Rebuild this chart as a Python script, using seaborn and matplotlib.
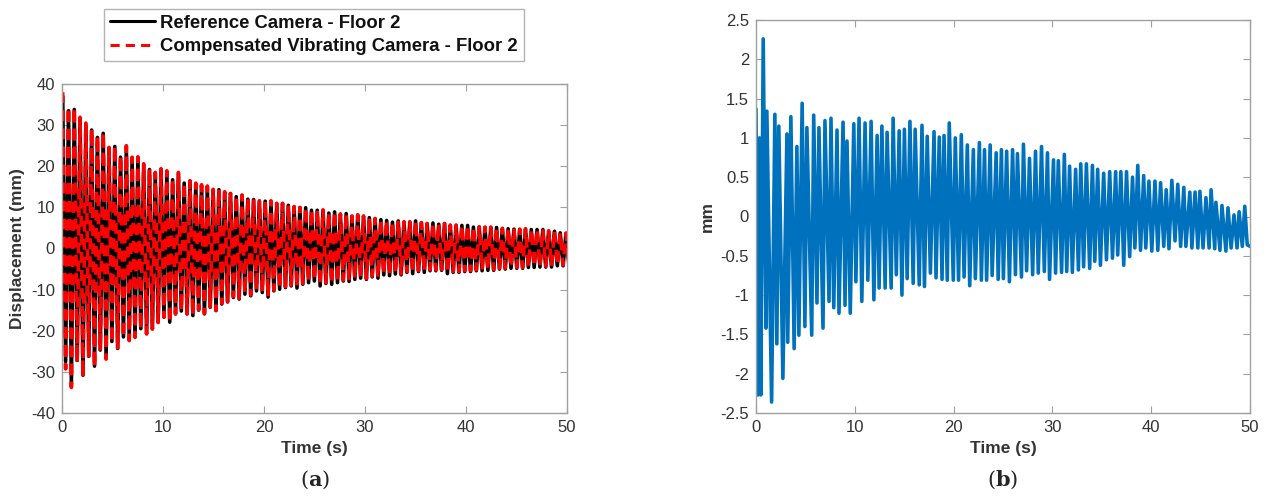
import numpy as np
import pandas as pd
import matplotlib
matplotlib.use("Agg")
import matplotlib.pyplot as plt
import seaborn as sns
from matplotlib.lines import Line2D

# ---------------- data ----------------
# Panel (a): successive peak / trough values of each displacement record (mm)
ref_peaks = [37.0, 33.5, 33.8, 31.5, 30.0, 28.8, 27.0, 28.0, 24.3, 24.8, 22.2, 24.6, 22.0, 22.0, 20.3, 19.2, 18.3, 19.2, 18.6, 16.7, 18.2, 15.9, 16.3,
             15.7, 15.3, 15.0, 14.2, 14.3, 13.6, 13.3, 12.6, 12.9, 12.0, 11.9, 11.5, 11.5, 11.4, 10.9, 10.9, 10.5, 10.1, 9.9, 9.9, 9.3,
             9.3, 9.2, 8.6, 8.9, 8.3, 8.5, 7.8, 8.1, 7.8, 7.5, 7.2, 7.0, 6.8, 6.4, 6.7, 6.4, 6.4, 6.7, 6.2, 6.0, 6.2, 5.9,
             6.0, 5.6, 5.6, 5.6, 5.6, 5.2, 5.2, 5.1, 5.1, 5.1, 4.8, 4.8, 4.7, 4.6, 4.7, 4.6, 4.6, 4.6, 4.2, 4.2, 3.8, 3.7]
ref_troughs = [-27.5, -33.0, -27.2, -30.8, -26.2, -28.6, -24.7, -26.6, -22.6, -24.3, -21.5, -22.2, -21.5, -19.5, -20.6, -19.5, -17.9, -16.7, -17.9, -15.9, -15.2, -15.9,
               -16.3, -15.0, -15.9, -14.3, -15.1, -13.5, -13.0, -11.9, -12.3, -11.1, -11.5, -10.3, -10.7, -11.8, -10.3, -9.9, -9.5, -9.1, -9.6, -8.7, -8.3, -7.9,
               -9.1, -8.5, -8.7, -8.3, -7.9, -8.0, -7.5, -7.2, -7.5, -6.9, -7.2, -6.4, -6.6, -6.2, -6.4, -5.8, -6.1, -5.6, -5.8, -5.4, -5.4, -5.3,
               -6.1, -5.8, -5.8, -5.6, -5.6, -5.4, -5.4, -5.3, -5.3, -5.0, -5.0, -4.8, -4.8, -4.8, -4.6, -4.6, -4.5, -4.5, -4.5, -4.2, -4.2, -3.9]
comp_peaks = [38.0, 34.3, 34.3, 31.9, 30.5, 29.1, 27.4, 28.3, 24.6, 25.0, 22.6, 25.0, 22.2, 22.3, 20.6, 19.4, 18.5, 19.4, 18.9, 16.9, 18.5, 16.1, 16.5,
              15.9, 15.5, 15.2, 14.4, 14.4, 13.8, 13.4, 12.8, 13.0, 12.2, 12.0, 11.6, 11.6, 11.6, 11.0, 11.0, 10.6, 10.2, 10.0, 10.0, 9.4,
              9.4, 9.4, 8.7, 9.0, 8.4, 8.6, 7.9, 8.2, 7.9, 7.6, 7.3, 7.1, 6.9, 6.5, 6.8, 6.5, 6.5, 6.8, 6.3, 6.1, 6.3, 6.0,
              6.1, 5.7, 5.7, 5.7, 5.7, 5.3, 5.3, 5.2, 5.2, 5.2, 4.9, 4.9, 4.8, 4.7, 4.8, 4.7, 4.7, 4.7, 4.3, 4.3, 3.8, 3.7]
comp_troughs = [-29.3, -33.8, -27.7, -31.3, -26.5, -28.9, -24.9, -26.9, -22.8, -24.5, -21.6, -22.4, -21.6, -19.6, -20.8, -19.6, -18.0, -16.7, -18.0, -15.9, -15.1, -15.9,
                -16.2, -14.9, -15.8, -14.2, -15.0, -13.3, -12.9, -11.7, -12.1, -10.9, -11.3, -10.1, -10.5, -11.7, -10.1, -9.7, -9.3, -8.9, -9.4, -8.5, -8.1, -7.7,
                -8.9, -8.3, -8.5, -8.1, -7.7, -7.8, -7.3, -7.0, -7.3, -6.7, -7.0, -6.2, -6.4, -6.0, -6.2, -5.6, -5.9, -5.4, -5.6, -5.2, -5.2, -5.1,
                -5.9, -5.6, -5.6, -5.4, -5.4, -5.2, -5.2, -5.1, -5.1, -4.8, -4.8, -4.6, -4.6, -4.6, -4.4, -4.4, -4.3, -4.3, -4.3, -4.0, -4.0, -3.6]
first_peak_time = 0.07   # s
last_peak_time = 49.9    # s

# Panel (b): difference record, peak / trough times (s) and values (mm)
diff_peak_t = [0.00, 0.35, 0.73, 1.10, 1.91, 2.31, 3.13, 3.53, 4.14, 4.67, 5.15, 5.84, 6.37, 6.98, 7.59, 8.20, 8.81, 9.21, 9.90,
               10.43, 11.04, 11.65, 12.26, 12.74, 13.27, 13.88, 14.49, 15.02, 15.58, 16.11, 16.80, 17.33, 18.02, 18.55, 19.03, 19.56,
               20.17, 20.78, 21.39, 22.00, 22.61, 23.13, 23.70, 24.31, 24.84, 25.37, 25.97, 26.46, 27.07, 27.68, 28.29, 28.90, 29.50,
               30.11, 30.60, 31.21, 31.74, 32.35, 32.87, 33.44, 34.05, 34.58, 35.19, 35.80, 36.40, 36.93, 37.50, 38.11, 38.64, 39.24, 39.77,
               40.38, 40.95, 41.52, 42.09, 42.69, 43.30, 43.91, 44.44, 44.93, 45.54, 46.06, 46.55, 47.16, 47.77, 48.38, 48.90, 49.47]
diff_peak_v = [1.37, 1.00, 2.26, 1.34, 1.30, 1.15, 1.05, 1.27, 0.89, 1.44, 1.13, 1.29, 1.13, 1.22, 1.25, 1.10, 1.20, 0.96, 1.18,
               1.25, 1.19, 1.21, 1.03, 1.15, 1.07, 1.25, 1.09, 1.11, 1.21, 1.11, 1.16, 1.02, 1.08, 1.01, 1.03, 1.19,
               1.00, 1.04, 0.91, 0.85, 0.94, 0.85, 0.91, 0.81, 0.85, 0.83, 0.85, 0.80, 0.92, 0.74, 0.83, 0.89, 0.81,
               0.72, 0.71, 0.79, 0.64, 0.60, 0.67, 0.67, 0.65, 0.60, 0.55, 0.57, 0.57, 0.57, 0.57, 0.50, 0.65, 0.52, 0.45,
               0.45, 0.43, 0.34, 0.46, 0.41, 0.37, 0.31, 0.31, 0.32, 0.24, 0.34, 0.18, 0.14, 0.11, 0.02, 0.06, 0.13]
diff_trough_t = [0.20, 0.49, 1.01, 1.58, 2.11, 2.72, 3.21, 3.86, 4.34, 4.95, 5.64, 6.17, 6.78, 7.39, 7.87, 8.40, 9.01, 9.54,
                 10.11, 10.71, 11.32, 11.93, 12.46, 13.07, 13.68, 14.20, 14.77, 15.30, 15.91, 16.52, 17.05, 17.65, 18.22, 18.83, 19.36, 19.97,
                 20.50, 21.06, 21.63, 22.20, 22.81, 23.34, 23.90, 24.51, 25.04, 25.65, 26.26, 26.87, 27.39, 28.00, 28.57, 29.18, 29.71,
                 30.32, 30.93, 31.45, 32.02, 32.63, 33.16, 33.77, 34.29, 34.86, 35.47, 36.08, 36.61, 37.22, 37.82, 38.35, 38.92, 39.45,
                 40.06, 40.67, 41.27, 41.80, 42.41, 42.98, 43.51, 44.12, 44.72, 45.25, 45.86, 46.43, 46.96, 47.56, 48.09, 48.69, 49.22, 49.72, 50.00]
diff_trough_v = [-2.27, -2.27, -1.42, -2.36, -1.62, -2.06, -1.60, -1.68, -1.51, -1.40, -1.51, -1.10, -1.42, -1.08, -1.16, -1.23, -1.13, -1.23,
                 -0.83, -1.08, -0.81, -1.06, -0.91, -0.91, -0.91, -0.74, -1.00, -0.79, -0.85, -0.87, -0.89, -0.72, -0.78, -0.80, -0.81, -0.81,
                 -0.81, -0.77, -0.88, -0.79, -0.81, -0.81, -0.75, -0.80, -0.79, -0.83, -0.74, -0.77, -0.69, -0.74, -0.72, -0.70, -0.80,
                 -0.72, -0.71, -0.70, -0.71, -0.68, -0.64, -0.66, -0.57, -0.62, -0.55, -0.53, -0.49, -0.62, -0.51, -0.40, -0.43, -0.40,
                 -0.44, -0.43, -0.38, -0.41, -0.31, -0.38, -0.38, -0.40, -0.40, -0.40, -0.40, -0.41, -0.43, -0.44, -0.40, -0.40, -0.38, -0.36, -0.38]

legend_labels = ["Reference Camera - Floor 2", "Compensated Vibrating Camera - Floor 2"]
x_label = "Time (s)"
y_label_a = "Displacement (mm)"
y_label_b = "mm"
x_ticks = [0, 10, 20, 30, 40, 50]
y_ticks_a = [-40, -30, -20, -10, 0, 10, 20, 30, 40]
y_ticks_b = [-2.5, -2, -1.5, -1, -0.5, 0, 0.5, 1, 1.5, 2, 2.5]


def zigzag(peaks, troughs):
    n = len(peaks)
    tp = np.linspace(first_peak_time, last_peak_time, n)
    half = (tp[1] - tp[0]) / 2
    tt = tp + half
    t = np.concatenate([tp, tt])
    v = np.concatenate([peaks, troughs])
    o = np.argsort(t)
    return pd.DataFrame({"t": t[o], "v": v[o]})


def merge(tp, vp, tt, vt):
    t = np.concatenate([tp, tt])
    v = np.concatenate([vp, vt])
    o = np.argsort(t)
    return pd.DataFrame({"t": t[o], "v": v[o]})


df_ref = zigzag(ref_peaks, ref_troughs)
df_comp = zigzag(comp_peaks, comp_troughs)
df_diff = merge(diff_peak_t, diff_peak_v, diff_trough_t, diff_trough_v)

# ---------------- style ----------------
sns.set_theme(style="white")
plt.rcParams["font.family"] = ["Liberation Sans", "DejaVu Sans"]
plt.rcParams["axes.unicode_minus"] = False
plt.rcParams["mathtext.fontset"] = "dejavuserif"

spine_col = "#a0a0a0"
tick_col = "#333333"

fig = plt.figure(figsize=(12.72, 5.04), dpi=100)
ax1 = fig.add_axes([62 / 1272, 1 - 413 / 504, (567 - 62) / 1272, (413 - 84) / 504])
ax2 = fig.add_axes([756 / 1272, 1 - 413 / 504, (1250 - 756) / 1272, (413 - 20) / 504])

sns.lineplot(data=df_ref, x="t", y="v", ax=ax1, color="black", lw=2.6,
             sort=False, estimator=None)
sns.lineplot(data=df_comp, x="t", y="v", ax=ax1, color="#ff0000", lw=2.6,
             sort=False, estimator=None)
ax1.lines[-1].set_dashes((3, 2))

sns.lineplot(data=df_diff, x="t", y="v", ax=ax2, color="#0072bd", lw=2.6,
             sort=False, estimator=None)

for ax, yt, yl, lab in [(ax1, y_ticks_a, (-40, 40), y_label_a), (ax2, y_ticks_b, (-2.5, 2.5), y_label_b)]:
    ax.set_xlim(0, 50)
    ax.set_ylim(*yl)
    ax.set_xticks(x_ticks)
    ax.set_yticks(yt)
    ax.set_yticklabels([f"{v:g}" for v in yt])
    ax.set_xlabel(x_label, fontsize=12.5, fontweight="bold", color=tick_col, labelpad=4)
    ax.set_ylabel(lab, fontsize=12.5, fontweight="bold", color=tick_col, labelpad=4)
    for s in ax.spines.values():
        s.set_visible(True)
        s.set_color(spine_col)
        s.set_linewidth(1.0)
    ax.tick_params(direction="in", length=5, width=0.8, color=spine_col,
                   labelsize=12, labelcolor=tick_col, top=True, right=True,
                   bottom=True, left=True, pad=5)

handles = [Line2D([], [], color="black", lw=2.2),
           Line2D([], [], color="#ff0000", lw=2.2, dashes=(3, 2))]
leg = fig.legend(handles, legend_labels, loc="upper left",
                 bbox_to_anchor=(104 / 1272, 1 - 9 / 504), frameon=True,
                 fancybox=False, edgecolor=spine_col, handlelength=2.45,
                 borderpad=0.3, borderaxespad=0.0, labelspacing=0.35,
                 handletextpad=0.3, prop={"weight": "bold", "size": 13.3})
leg.get_frame().set_linewidth(1.0)
for t in leg.get_texts():
    t.set_color("#111111")

fig.text(315 / 1272, 1 - 480 / 504, r"($\mathbf{a}$)", fontsize=15,
         family="DejaVu Serif", ha="center", va="center")
fig.text(1003 / 1272, 1 - 480 / 504, r"($\mathbf{b}$)", fontsize=15,
         family="DejaVu Serif", ha="center", va="center")

fig.savefig("out.png", dpi=100)
